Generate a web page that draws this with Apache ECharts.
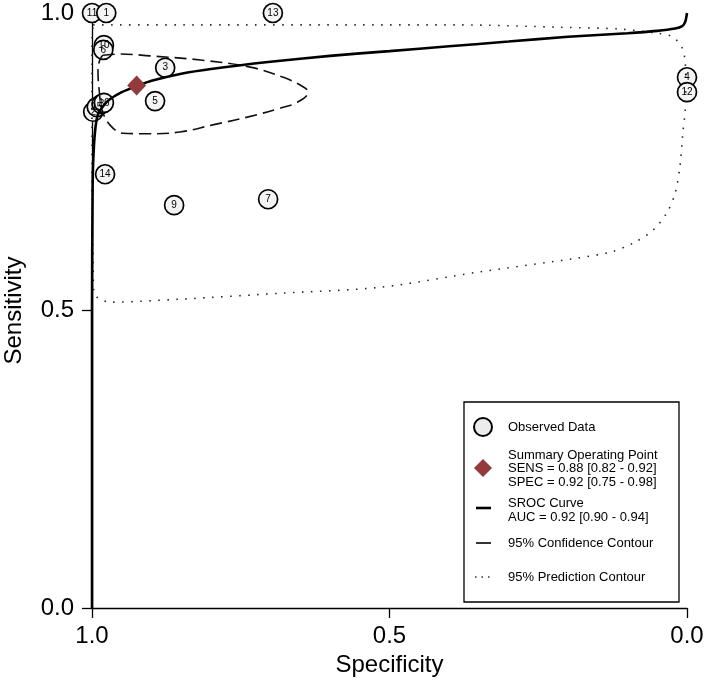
<!DOCTYPE html>
<html>
<head>
<meta charset="utf-8">
<script src="https://cdn.jsdelivr.net/npm/echarts@6/dist/echarts.min.js"></script>
<style>html,body{margin:0;padding:0;background:#fff}#c{width:709px;height:682px}</style>
</head>
<body>
<div id="c"></div>
<script>
// Observed studies
var studyLabels = ['11','1','13','10','6','3','5','2','15','8','16','14','9','7','4','12'];
var studySpec   = [1.0, 0.976, 0.696, 0.980, 0.981, 0.877, 0.894, 0.998, 0.992, 0.984, 0.980, 0.978, 0.862, 0.704, 0.0, 0.0];
var studySens   = [1.0, 1.0,   1.0,   0.946, 0.938, 0.908, 0.852, 0.834, 0.842, 0.847, 0.849, 0.729, 0.677, 0.687, 0.892, 0.867];

// Summary operating point
var summarySpec = [0.925];
var summarySens = [0.878];

// SROC curve
var srocSpec = [1.0, 1.0, 0.999, 0.998, 0.995, 0.99, 0.98, 0.97, 0.95, 0.925, 0.90, 0.85, 0.80, 0.70, 0.60, 0.50, 0.40, 0.30, 0.20, 0.10, 0.05, 0.02, 0.008, 0.003, 0.0];
var srocSens = [0.0, 0.5, 0.70, 0.75, 0.80, 0.83, 0.845, 0.855, 0.867, 0.877, 0.886, 0.898, 0.906, 0.918, 0.928, 0.936, 0.944, 0.952, 0.960, 0.966, 0.970, 0.974, 0.978, 0.985, 1.0];

// 95% confidence contour
var confSpec = [0.982, 0.953, 0.903, 0.818, 0.734, 0.676, 0.642, 0.637, 0.655, 0.684, 0.739, 0.797, 0.852, 0.908, 0.948, 0.970, 0.983, 0.988, 0.990, 0.987, 0.982];
var confSens = [0.929, 0.931, 0.928, 0.921, 0.909, 0.891, 0.874, 0.867, 0.850, 0.840, 0.825, 0.812, 0.800, 0.797, 0.798, 0.812, 0.837, 0.871, 0.904, 0.921, 0.929];

// 95% prediction contour
var predSpec = [0.998, 0.818, 0.550, 0.382, 0.213, 0.113, 0.050, 0.024, 0.008, 0.003, 0.002, 0.003, 0.007, 0.012, 0.020, 0.034, 0.057, 0.091, 0.129, 0.185, 0.348, 0.516, 0.684, 0.852, 0.970, 0.990, 0.997, 0.998, 1.0, 1.0, 1.0, 0.998];
var predSens = [0.980, 0.980, 0.980, 0.980, 0.976, 0.973, 0.966, 0.960, 0.941, 0.916, 0.879, 0.837, 0.798, 0.741, 0.697, 0.664, 0.635, 0.613, 0.598, 0.588, 0.565, 0.539, 0.529, 0.519, 0.514, 0.521, 0.531, 0.568, 0.686, 0.854, 0.955, 0.980];

var tickValues = [0, 0.5, 1];

function zip(a, b, c) {
  return a.map(function (v, i) { return c ? [v, b[i], c[i]] : [v, b[i]]; });
}

var FONT = '"Liberation Sans", Arial, Helvetica, sans-serif';
var chart = echarts.init(document.getElementById('c'), null, {renderer: 'canvas'});

var legendText = function (x, y, t) {
  return {type: 'text', style: {x: x, y: y, text: t, font: '13px ' + FONT, fill: '#000', verticalAlign: 'middle', textVerticalAlign: 'middle'}, z: 100};
};

chart.setOption({
  animation: false,
  backgroundColor: '#fff',
  grid: {left: 92, right: 22, top: 13, bottom: 74, containLabel: false, outerBoundsMode: 'none'},
  xAxis: {
    type: 'value', min: 0, max: 1, interval: 0.5, inverse: true,
    name: 'Specificity', nameLocation: 'middle', nameGap: 43,
    nameTextStyle: {fontFamily: FONT, fontSize: 24, color: '#000'},
    axisLine: {show: true, onZero: false, lineStyle: {color: '#000', width: 1.3}},
    axisTick: {show: true, length: 10, lineStyle: {color: '#000', width: 1.3}},
    axisLabel: {fontFamily: FONT, fontSize: 24, color: '#000', margin: 16,
      formatter: function (v) { return v.toFixed(1); }},
    splitLine: {show: false}
  },
  yAxis: {
    type: 'value', min: 0, max: 1, interval: 0.5,
    name: 'Sensitivity', nameLocation: 'middle', nameGap: 66, nameRotate: 90,
    nameTextStyle: {fontFamily: FONT, fontSize: 24, color: '#000'},
    axisLine: {show: true, onZero: false, lineStyle: {color: '#000', width: 1.3}},
    axisTick: {show: true, length: 10, lineStyle: {color: '#000', width: 1.3}},
    axisLabel: {fontFamily: FONT, fontSize: 24, color: '#000', margin: 18,
      formatter: function (v) { return v.toFixed(1); }},
    splitLine: {show: false}
  },
  series: [
    {
      type: 'scatter', z: 2,
      data: zip(studySpec, studySens, studyLabels),
      symbol: 'circle', symbolSize: 19,
      itemStyle: {color: '#f4f4f4', borderColor: '#000', borderWidth: 1.7, opacity: 1},
      label: {show: true, position: 'inside', fontFamily: FONT, fontSize: 10, color: '#000',
        formatter: function (p) { return p.data[2]; }}
    },
    {
      type: 'line', z: 3, data: zip(predSpec, predSens), smooth: 0.3, symbol: 'none',
      lineStyle: {color: '#222', width: 1.6, type: [1.5, 7.5]}
    },
    {
      type: 'line', z: 3, data: zip(confSpec, confSens), smooth: 0.4, symbol: 'none',
      lineStyle: {color: '#111', width: 1.6, type: [12, 6]}
    },
    {
      type: 'line', z: 4, data: zip(srocSpec, srocSens), smooth: 0.25, symbol: 'none',
      lineStyle: {color: '#000', width: 2.6}
    },
    {
      type: 'scatter', z: 5, data: zip(summarySpec, summarySens),
      symbol: 'diamond', symbolSize: [19, 20],
      itemStyle: {color: '#923a3c', opacity: 1}
    }
  ],
  graphic: [
    {type: 'rect', shape: {x: 464, y: 402, width: 215, height: 200}, style: {fill: '#fff', stroke: '#000', lineWidth: 1.3}, z: 90},
    {type: 'circle', shape: {cx: 483, cy: 427, r: 9}, style: {fill: '#ececec', stroke: '#000', lineWidth: 2}, z: 100},
    legendText(508, 427, 'Observed Data'),
    {type: 'polygon', shape: {points: [[483, 459], [492, 468], [483, 477], [474, 468]]}, style: {fill: '#923a3c'}, z: 100},
    legendText(508, 455, 'Summary Operating Point'),
    legendText(508, 468.5, 'SENS = 0.88 [0.82 - 0.92]'),
    legendText(508, 482, 'SPEC = 0.92 [0.75 - 0.98]'),
    {type: 'line', shape: {x1: 476, y1: 508, x2: 491, y2: 508}, style: {stroke: '#000', lineWidth: 2.6}, z: 100},
    legendText(508, 503, 'SROC Curve'),
    legendText(508, 517, 'AUC = 0.92 [0.90 - 0.94]'),
    {type: 'line', shape: {x1: 476, y1: 543, x2: 491, y2: 543}, style: {stroke: '#000', lineWidth: 1.6}, z: 100},
    legendText(508, 543, '95% Confidence Contour'),
    {type: 'line', shape: {x1: 475, y1: 577, x2: 492, y2: 577}, style: {stroke: '#333', lineWidth: 1.4, lineDash: [1.5, 5]}, z: 100},
    legendText(508, 577, '95% Prediction Contour')
  ]
});
</script>
</body>
</html>
